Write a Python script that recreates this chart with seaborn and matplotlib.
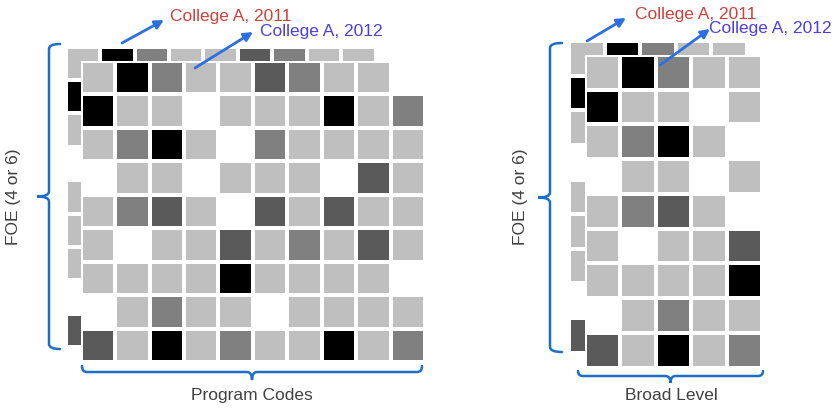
import matplotlib
matplotlib.use('Agg')
import matplotlib.pyplot as plt
from matplotlib.colors import ListedColormap
from matplotlib.path import Path
from matplotlib.patches import PathPatch
import numpy as np
import pandas as pd
import seaborn as sns

# grey level of each cell: 0 white, 1 light, 2 mid, 3 dark, 4 black
program_codes_2012 = [
    [1, 4, 2, 1, 1, 3, 2, 1, 1, 0],
    [4, 1, 1, 0, 1, 1, 1, 4, 1, 2],
    [1, 2, 4, 1, 0, 2, 1, 1, 1, 1],
    [0, 1, 1, 0, 1, 1, 1, 0, 3, 1],
    [1, 2, 3, 1, 0, 3, 1, 3, 1, 1],
    [1, 0, 1, 1, 3, 1, 2, 1, 3, 1],
    [1, 1, 1, 1, 4, 1, 1, 1, 1, 0],
    [0, 1, 2, 1, 1, 0, 1, 1, 1, 1],
    [3, 1, 4, 1, 2, 1, 1, 4, 1, 2],
]
program_codes_2011 = [row[:] for row in program_codes_2012]

broad_level_2012 = [
    [1, 4, 2, 1, 1],
    [4, 1, 1, 0, 1],
    [1, 2, 4, 1, 0],
    [0, 1, 1, 0, 1],
    [1, 2, 3, 1, 0],
    [1, 0, 1, 1, 3],
    [1, 1, 1, 1, 4],
    [0, 1, 2, 1, 1],
    [3, 1, 4, 1, 2],
]
broad_level_2011 = [row[:] for row in broad_level_2012]

layer_labels = ['College A, 2011', 'College A, 2012']
x_labels = ['Program Codes', 'Broad Level']
y_label = 'FOE (4 or 6)'

W, H = 835, 415
grey_cmap = ListedColormap(['#ffffff', '#bfbfbf', '#808080', '#5a5a5a', '#000000'])
BLUE = '#1c6fc8'
ARROW = '#2b6fe0'

sns.set_theme(style='white')
plt.rcParams['font.family'] = ['Liberation Sans', 'DejaVu Sans']

fig = plt.figure(figsize=(W / 100, H / 100), dpi=100)


def grid_axes(x0, y0, x1, y1):
    return fig.add_axes([x0 / W, 1 - y1 / H, (x1 - x0) / W, (y1 - y0) / H])


def draw_grid(values, box):
    ax = grid_axes(*box)
    sns.heatmap(pd.DataFrame(values), ax=ax, cmap=grey_cmap, vmin=-0.5, vmax=4.5,
                cbar=False, linewidths=1.5, linecolor='white', square=False)
    ax.set_xticks([])
    ax.set_yticks([])
    ax.set_xlabel('')
    ax.set_ylabel('')
    return ax


# back layer first, front layer on top
draw_grid(program_codes_2011, (65.7, 46.7, 410, 347))
draw_grid(program_codes_2012, (80.7, 60.7, 425, 362))
draw_grid(broad_level_2011, (569.3, 41, 746.7, 352.7))
draw_grid(broad_level_2012, (585, 55, 762, 367.7))

# overlay in pixel coords for braces, arrows and text
over = fig.add_axes([0, 0, 1, 1], facecolor='none')
over.set_xlim(0, W)
over.set_ylim(H, 0)
over.axis('off')


def vbrace(x, y0, y1, hook, cusp, r=5):
    ym = (y0 + y1) / 2
    verts = [(x + hook, y0), (x, y0), (x, y0 + r),
             (x, ym - r), (x, ym), (x - cusp, ym),
             (x, ym), (x, ym + r),
             (x, y1 - r), (x, y1), (x + hook, y1)]
    codes = [Path.MOVETO, Path.CURVE3, Path.CURVE3,
             Path.LINETO, Path.CURVE3, Path.CURVE3,
             Path.CURVE3, Path.CURVE3,
             Path.LINETO, Path.CURVE3, Path.CURVE3]
    over.add_patch(PathPatch(Path(verts, codes), fill=False, color=BLUE, lw=1.8, capstyle='round'))


def hbrace(y, x0, x1, hook, cusp, r=5):
    xm = (x0 + x1) / 2
    verts = [(x0, y - hook), (x0, y), (x0 + r, y),
             (xm - r, y), (xm, y), (xm, y + cusp),
             (xm, y), (xm + r, y),
             (x1 - r, y), (x1, y), (x1, y - hook)]
    codes = [Path.MOVETO, Path.CURVE3, Path.CURVE3,
             Path.LINETO, Path.CURVE3, Path.CURVE3,
             Path.CURVE3, Path.CURVE3,
             Path.LINETO, Path.CURVE3, Path.CURVE3]
    over.add_patch(PathPatch(Path(verts, codes), fill=False, color=BLUE, lw=1.8, capstyle='round'))


vbrace(49, 44, 349, 11, 12)
vbrace(550, 43, 352, 12, 12)
hbrace(372, 82, 422, 6, 8)
hbrace(376, 578, 763, 5, 7)

over.text(13.5, 196.5, y_label, rotation=90, ha='center', va='center', fontsize=12.5, color='#404040')
over.text(520, 196.5, y_label, rotation=90, ha='center', va='center', fontsize=12.5, color='#404040')
over.text(252, 395, x_labels[0], ha='center', va='center', fontsize=12.5, color='#404040')
over.text(671, 395, x_labels[1], ha='center', va='center', fontsize=12.5, color='#404040')

label_colors = ['#d2403c', '#4a3ee6']
arrows = [
    [((122, 43), (164, 20)), ((195, 68), (253, 32))],
    [((587, 41), (626, 18)), ((660, 65), (710, 29))],
]
text_pos = [
    [(170, 16), (260, 31.5)],
    [(635, 14), (709, 29)],
]
for panel_arrows, panel_text in zip(arrows, text_pos):
    for (start, end), (tx, ty), lab, col in zip(panel_arrows, panel_text, layer_labels, label_colors):
        over.annotate('', xy=end, xytext=start,
                      arrowprops=dict(arrowstyle='-|>', color=ARROW, lw=2, mutation_scale=13,
                                      shrinkA=0, shrinkB=0))
        over.text(tx, ty, lab, ha='left', va='center', fontsize=12.5, color=col)

fig.savefig('out.png', dpi=100)
